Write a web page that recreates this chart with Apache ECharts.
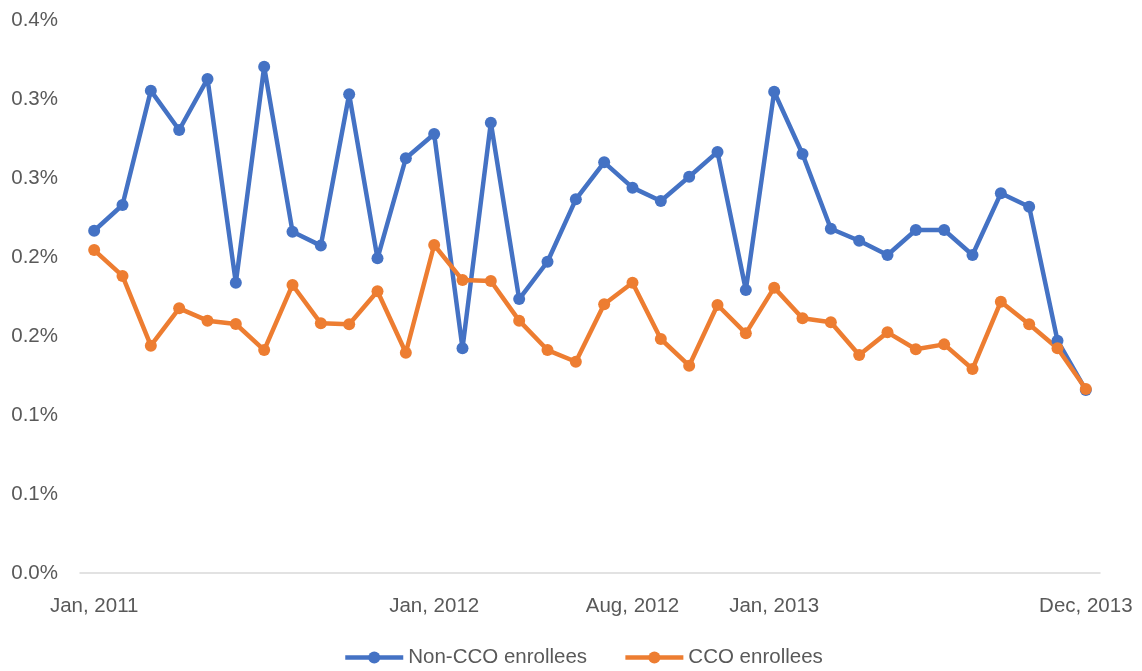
<!DOCTYPE html>
<html>
<head>
<meta charset="utf-8">
<script src="https://cdn.jsdelivr.net/npm/echarts@6/dist/echarts.min.js"></script>
<style>html,body{margin:0;padding:0;background:#fff}#c{width:1142px;height:671px}</style>
</head>
<body>
<div id="c"></div>
<script>
const months = ['Jan','Feb','Mar','Apr','May','Jun','Jul','Aug','Sep','Oct','Nov','Dec'];
const years = [2011, 2012, 2013];
const categories = [];
years.forEach(y => months.forEach(m => categories.push(m + ', ' + y)));
const shownLabels = ['Jan, 2011', 'Jan, 2012', 'Aug, 2012', 'Jan, 2013', 'Dec, 2013'];

const seriesNames = ['Non-CCO enrollees', 'CCO enrollees'];
// values in percent
const nonCCO = [0.2166, 0.2329, 0.3053, 0.2804, 0.3127, 0.1837, 0.3204, 0.2160, 0.2072, 0.3030, 0.1992, 0.2625,
                0.2778, 0.1422, 0.2850, 0.1734, 0.1970, 0.2365, 0.2599, 0.2439, 0.2354, 0.2508, 0.2665, 0.1791,
                0.3046, 0.2652, 0.2179, 0.2103, 0.2013, 0.2171, 0.2171, 0.2013, 0.2403, 0.2318, 0.1470, 0.1158];
const cco    = [0.2044, 0.1880, 0.1439, 0.1675, 0.1597, 0.1576, 0.1411, 0.1823, 0.1580, 0.1574, 0.1783, 0.1394,
                0.2076, 0.1854, 0.1848, 0.1597, 0.1411, 0.1337, 0.1701, 0.1837, 0.1481, 0.1312, 0.1696, 0.1517,
                0.1806, 0.1612, 0.1587, 0.1380, 0.1523, 0.1416, 0.1447, 0.1291, 0.1717, 0.1574, 0.1422, 0.1165];
const yTickLabels = ['0.0%', '0.1%', '0.1%', '0.2%', '0.2%', '0.3%', '0.3%', '0.4%'];

const font = '"Liberation Sans", Arial, sans-serif';
const chart = echarts.init(document.getElementById('c'), null, {renderer: 'canvas'});
chart.setOption({
  animation: false,
  backgroundColor: '#fff',
  color: ['#4472C4', '#ED7D31'],
  grid: {left: 80, right: 42, top: 20, bottom: 98, containLabel: false},
  legend: {
    data: seriesNames,
    bottom: -2,
    left: 338,
    itemWidth: 58,
    itemHeight: 15,
    itemGap: 36,
    lineStyle: {width: 4.5},
    textStyle: {color: '#595959', fontSize: 20.5, fontFamily: font}
  },
  xAxis: {
    type: 'category',
    data: categories,
    boundaryGap: true,
    axisLine: {lineStyle: {color: '#d9d9d9', width: 1.5}},
    axisTick: {show: false},
    axisLabel: {
      color: '#595959', fontSize: 20.5, fontFamily: font, margin: 23,
      interval: (i, v) => shownLabels.indexOf(v) >= 0
    },
    splitLine: {show: false}
  },
  yAxis: {
    type: 'value',
    min: 0, max: 0.35, interval: 0.05,
    axisLine: {show: false},
    axisTick: {show: false},
    splitLine: {show: false},
    axisLabel: {
      color: '#595959', fontSize: 20.5, fontFamily: font, margin: 22,
      formatter: v => yTickLabels[Math.round(v / 0.05)]
    }
  },
  series: [
    {name: seriesNames[0], type: 'line', data: nonCCO, symbol: 'circle', symbolSize: 12,
     lineStyle: {width: 4.5}, itemStyle: {color: '#4472C4'}},
    {name: seriesNames[1], type: 'line', data: cco, symbol: 'circle', symbolSize: 12,
     lineStyle: {width: 4.5}, itemStyle: {color: '#ED7D31'}}
  ]
});
</script>
</body>
</html>
